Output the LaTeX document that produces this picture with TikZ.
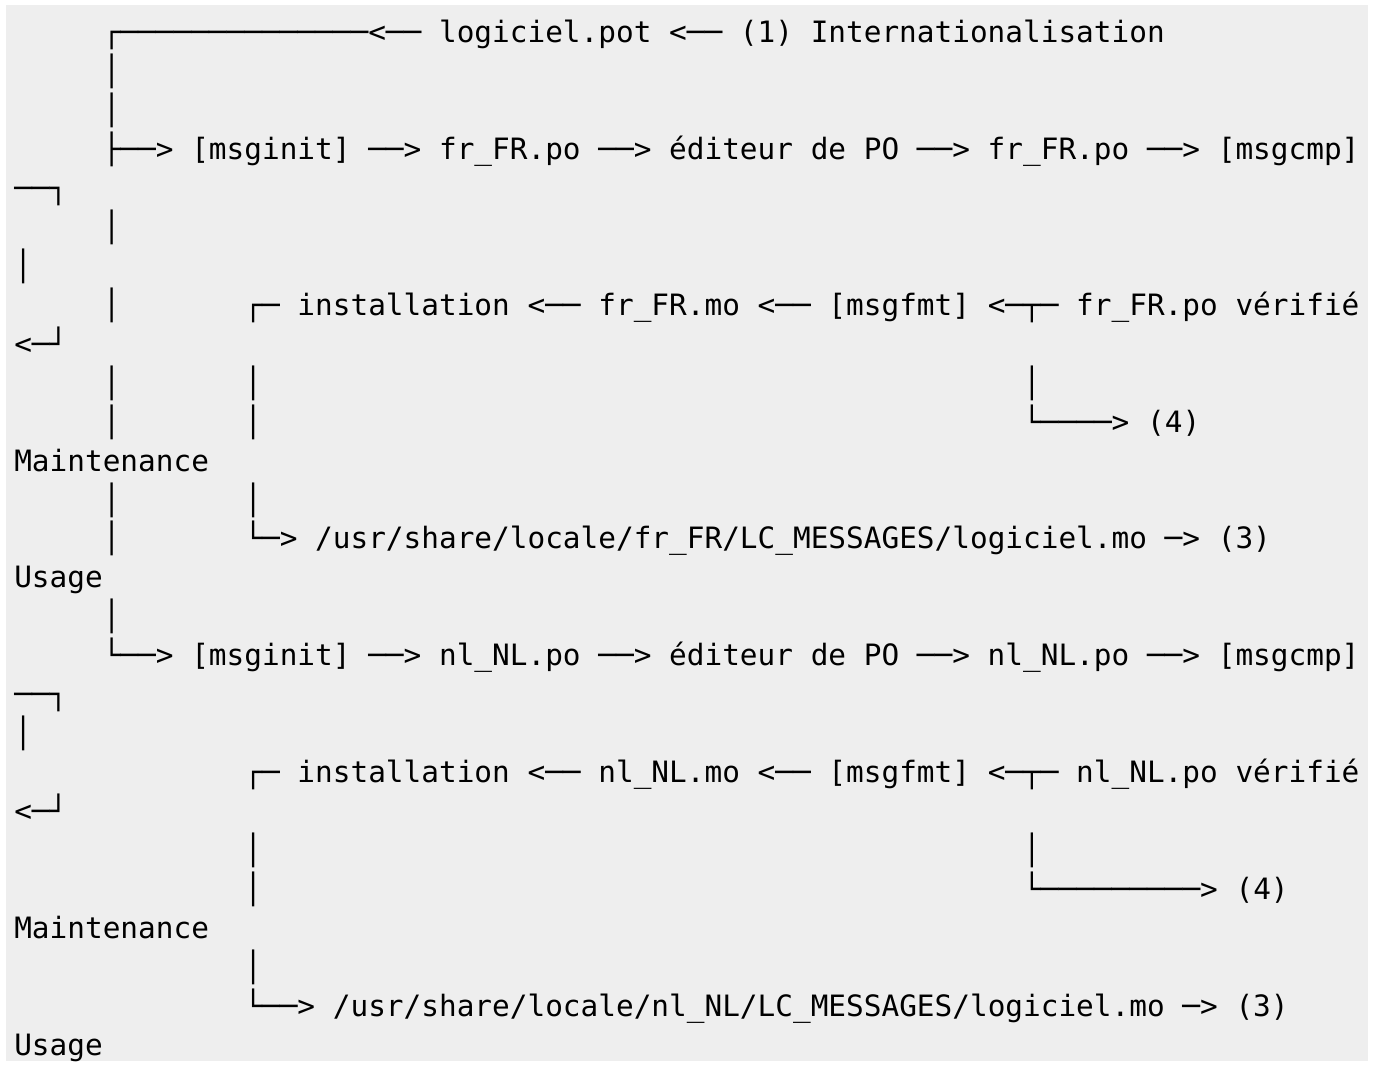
\documentclass[tikz,border=0pt]{standalone}
\usepackage{fontspec}
\newfontfamily\asciifont{DejaVu Sans Mono}
\definecolor{codebg}{HTML}{EEEEEE}
\tikzset{ascii/.style={font=\asciifont\fontsize{29.4bp}{39bp}\selectfont, anchor=base west, inner sep=0pt, outer sep=0pt}}

\begin{document}
\begin{tikzpicture}[x=17.7bp, y=-38.96bp]
	\useasboundingbox (-14.3bp,42.5bp) rectangle (1360.7bp,-1024.5bp);
	\fill[codebg] (-8.3bp,37.5bp) rectangle (1353.7bp,-1018.5bp);
	% trunk of the first branch
	\node[ascii] (pot) at (5,0) {┌──────────────<── logiciel.pot <── (1) Internationalisation};
	\foreach \r in {1,2,5,7,9,10,12,13,15}
		\node[ascii] (trunk\r) at (5,\r) {│};
	% fr_FR
	\node[ascii] (frinit) at (5,3) {├──> [msginit] ──> fr\_FR.po ──> éditeur de PO ──> fr\_FR.po ──> [msgcmp]};
	\node[ascii] (frwrap) at (0,4) {──┐};
	\node[ascii] (frbar) at (0,6) {│};
	\node[ascii] (frfmt) at (13,7) {┌─ installation <── fr\_FR.mo <── [msgfmt] <─┬─ fr\_FR.po vérifié};
	\node[ascii] (frback) at (0,8) {<─┘};
	\foreach \r in {9,10,12}
		\node[ascii] (frinst\r) at (13,\r) {│};
	\node[ascii] (frchk9) at (57,9) {│};
	\node[ascii] (frmaint) at (57,10) {└────> (4)};
	\node[ascii] (frmainttxt) at (0,11) {Maintenance};
	\node[ascii] (fruse) at (13,13) {└─> /usr/share/locale/fr\_FR/LC\_MESSAGES/logiciel.mo ─> (3)};
	\node[ascii] (frusetxt) at (0,14) {Usage};
	% nl_NL
	\node[ascii] (nlinit) at (5,16) {└──> [msginit] ──> nl\_NL.po ──> éditeur de PO ──> nl\_NL.po ──> [msgcmp]};
	\node[ascii] (nlwrap) at (0,17) {──┐};
	\node[ascii] (nlbar) at (0,18) {│};
	\node[ascii] (nlfmt) at (13,19) {┌─ installation <── nl\_NL.mo <── [msgfmt] <─┬─ nl\_NL.po vérifié};
	\node[ascii] (nlback) at (0,20) {<─┘};
	\foreach \r in {21,22,24}
		\node[ascii] (nlinst\r) at (13,\r) {│};
	\node[ascii] (nlchk21) at (57,21) {│};
	\node[ascii] (nlmaint) at (57,22) {└─────────> (4)};
	\node[ascii] (nlmainttxt) at (0,23) {Maintenance};
	\node[ascii] (nluse) at (13,25) {└──> /usr/share/locale/nl\_NL/LC\_MESSAGES/logiciel.mo ─> (3)};
	\node[ascii] (nlusetxt) at (0,26) {Usage};
\end{tikzpicture}
\end{document}
